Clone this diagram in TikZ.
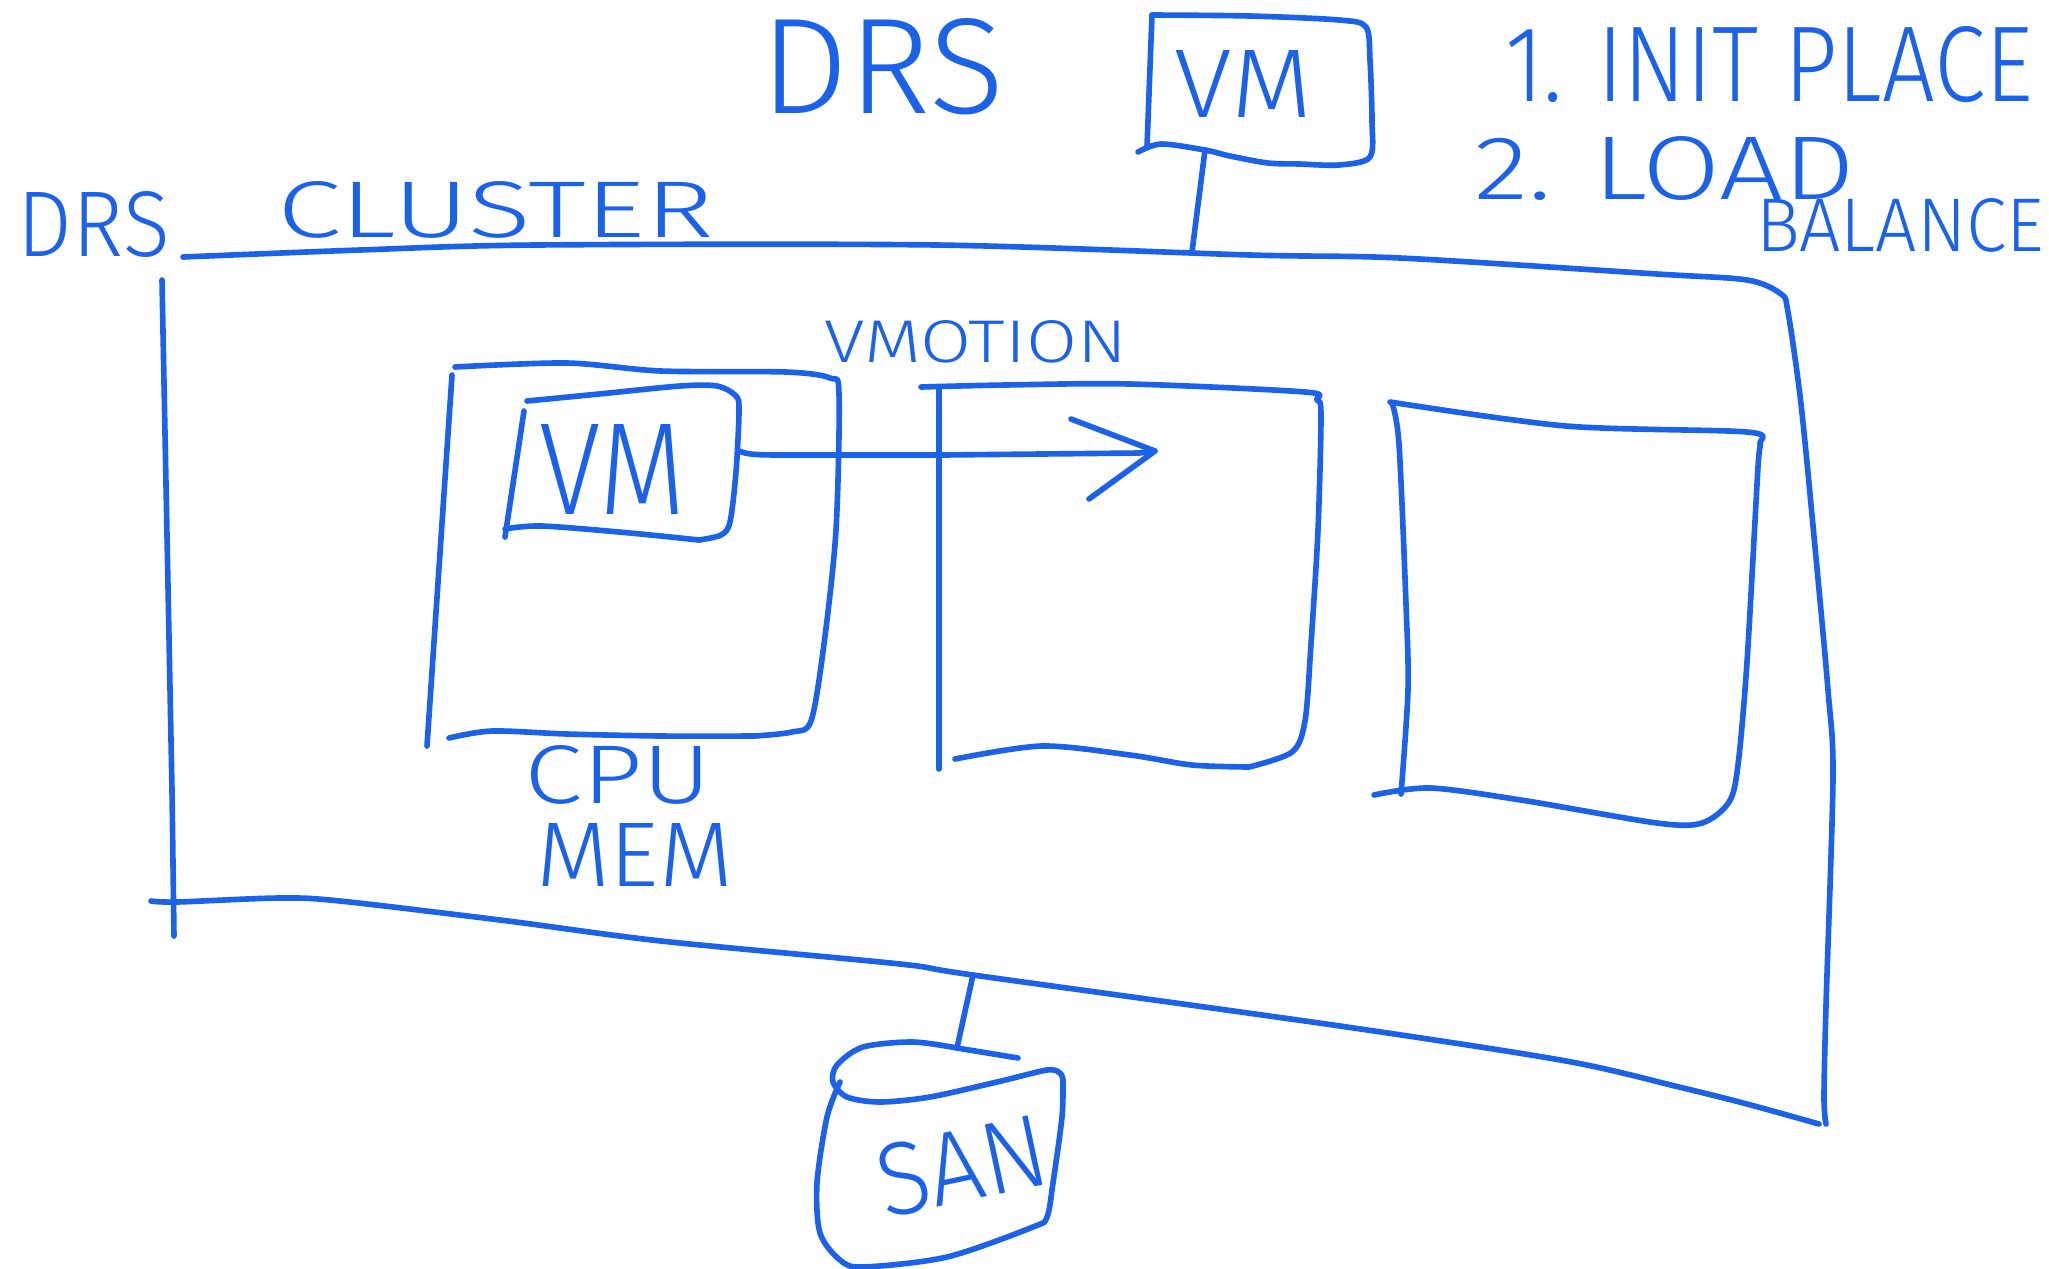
\documentclass[tikz,border=0pt]{standalone}
\usepackage{graphicx}
\usepackage{fontspec}
\newfontfamily\hand{Fira Sans}[UprightFont=* Light]
\definecolor{ink}{RGB}{28,98,232}
\newcommand{\fitt}[3]{\resizebox{#1mm}{#2mm}{\hand #3}}
\begin{document}
\begin{tikzpicture}[x=0.1mm,y=-0.1mm,
  pen/.style={draw=ink,line width=1.6pt,line cap=round,line join=round},
  txt/.style={inner sep=0pt,outer sep=0pt,anchor=south west,text=ink}]
\useasboundingbox[fill=white] (0,0) rectangle (2049,1268);

% ---------- texts ----------
\node[txt] (drsbig) at (760,115) {\fitt{24.5}{9.5}{DRS}};
\node[txt] (vmtoptxt) at (1174,117) {\fitt{13.8}{6.7}{VM}};
\node[txt] (init) at (1505,103) {\fitt{52.8}{7.5}{1. INIT PLACE}};
\node[txt] (load) at (1474,200) {\fitt{38.1}{6.3}{2. LOAD}};
\node[txt] (balance) at (1756,252) {\fitt{28.8}{5.3}{BALANCE}};
\node[txt] (drssmall) at (18,258) {\fitt{15.2}{6.5}{DRS}};
\node[txt] (cluster) at (277,238) {\fitt{43.7}{5.6}{CLUSTER}};
\node[txt] (vmotion) at (824,363) {\fitt{30.3}{4.2}{VMOTION}};
\node[txt] (vmtxt) at (539,514) {\fitt{14.7}{9.0}{VM}};
\node[txt] (cpu) at (524,804) {\fitt{18.7}{5.8}{CPU}};
\node[txt] (mem) at (536,886) {\fitt{19.7}{6.3}{MEM}};
\node[inner sep=0pt,text=ink,rotate=12] (san) at (962,1166) {\fitt{17.2}{7.2}{SAN}};

% ---------- DRS cluster outline ----------
\draw[pen] plot[smooth,tension=0.5] coordinates {
  (183,257) (360,250) (536,245) (937,245) (1250,255) (1400,258) (1657,274)
  (1747,280) (1781,294) (1788,312) (1801,404) (1815,547) (1828,690) (1833,777)
  (1826,1006) (1824,1098) (1826,1124)};
\draw[pen] plot[smooth,tension=0.5] coordinates {
  (1819,1124) (1747,1104) (1679,1087) (1566,1061) (1340,1026) (973,975)
  (900,964) (661,941) (508,921) (340,901) (279,898) (177,902) (151,901)};
\draw[pen] (162,280) -- (172,790) -- (174,936);

% ---------- top VM and its link ----------
\draw[pen] plot[smooth,tension=0.5] coordinates {
  (1152,15) (1250,16) (1339,20) (1366,27) (1370,60) (1372,120) (1370,157)
  (1339,165) (1300,164) (1268,163) (1230,156) (1205,150) (1161,144) (1138,152)};
\draw[pen] (1152,15) -- (1147,147);
\coordinate (vmtopfoot) at (1205,150);
\coordinate (clusterjoin) at (1192,252);
\draw[pen] (vmtopfoot) -- (clusterjoin);

% ---------- host 1 ----------
\draw[pen] plot[smooth,tension=0.5] coordinates {
  (455,367) (567,363) (661,371) (786,372) (830,378) (839,394) (836,530)
  (824,644) (811,721) (792,732) (755,736)};
\draw[pen] plot[smooth,tension=0.5] coordinates {
  (449,738) (492,731) (567,734) (661,736) (755,736)};
\draw[pen] (452,375) -- (427,746);

% ---------- VM inside host 1 ----------
\draw[pen] plot[smooth,tension=0.5] coordinates {
  (527,401) (599,394) (680,386) (717,386) (736,396) (739,411) (736,472)
  (730,522) (721,535) (699,540)};
\draw[pen] plot[smooth,tension=0.5] coordinates {
  (505,529) (542,526) (630,533) (699,540)};
\draw[pen] (524,411) -- (505,537);

% ---------- vMotion arrow ----------
\coordinate (vmout) at (739,451);
\coordinate (arrowtip) at (1155,451);
\draw[pen] (vmout) .. controls (748,455) and (760,455) .. (790,455)
  -- (943,455) -- (1139,453) -- (arrowtip);
\draw[pen] (1071,419) -- (arrowtip) -- (1089,499);

% ---------- host 2 ----------
\draw[pen] plot[smooth,tension=0.5] coordinates {
  (921,387) (1005,385) (1130,384) (1305,392) (1317,400) (1321,415) (1318,530)
  (1311,644) (1305,721) (1292,752) (1249,767)};
\draw[pen] plot[smooth,tension=0.5] coordinates {
  (955,759) (1042,746) (1130,755) (1192,765) (1249,767)};
\draw[pen] (939,388) -- (939,769);

% ---------- host 3 ----------
\draw[pen] plot[smooth,tension=0.5] coordinates {
  (1390,402) (1566,426) (1747,432) (1760,444) (1758,467) (1747,662)
  (1738,765) (1729,802) (1702,823) (1657,823) (1521,800) (1430,788) (1374,795)};
\draw[pen] plot[smooth,tension=0.5] coordinates {
  (1392,403) (1399,444) (1406,604) (1408,690) (1401,794)};

% ---------- SAN ----------
\coordinate (sanlink) at (973,975);
\coordinate (santop) at (957,1048);
\draw[pen] (sanlink) -- (santop);
\draw[pen] (santop) -- (1018,1058);
\draw[pen] plot[smooth,tension=0.5] coordinates {
  (957,1048) (913,1042) (863,1047) (837,1065) (833,1082) (847,1097) (880,1102)
  (930,1097) (997,1082) (1047,1070) (1060,1073) (1063,1080)};
\draw[pen] plot[smooth,tension=0.5] coordinates {
  (1063,1080) (1062,1117) (1053,1183) (1047,1217) (1033,1227) (947,1257)
  (863,1267) (840,1260) (820,1233) (817,1183) (827,1117) (840,1082)};
\end{tikzpicture}
\end{document}
